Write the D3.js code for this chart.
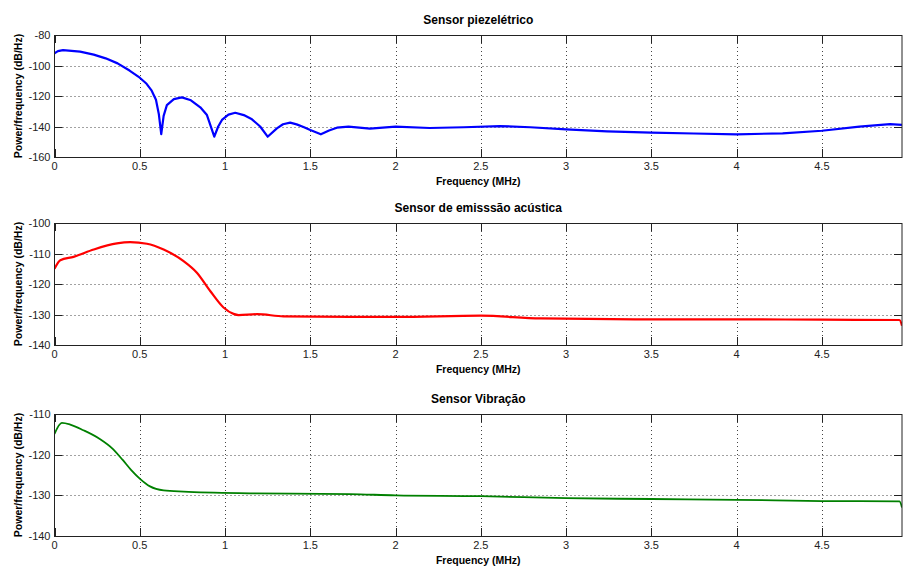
<!DOCTYPE html>
<html>
<head>
<meta charset="utf-8">
<script src="https://cdn.jsdelivr.net/npm/d3@7"></script>
<style>
  body { margin: 0; background: #fff; }
  svg { display: block; font-family: "Liberation Sans", Arial, Helvetica, sans-serif; }
</style>
</head>
<body>
<svg id="chart" width="903" height="567"></svg>
<script>
// Data (frequency in MHz, PSD in dB/Hz)
const xTicks = [0, 0.5, 1, 1.5, 2, 2.5, 3, 3.5, 4, 4.5];
const xMax = 4.97;

const titles = ["Sensor piezelétrico", "Sensor de emisssão acústica", "Sensor Vibração"];

const piezoFreq = [0, 0.02, 0.05, 0.15, 0.23, 0.3, 0.37, 0.44, 0.5, 0.54, 0.57, 0.595, 0.612, 0.626, 0.64, 0.659, 0.7, 0.747, 0.8, 0.855, 0.894, 0.937, 0.96, 0.982, 1.02, 1.06, 1.11, 1.158, 1.206, 1.25, 1.304, 1.34, 1.382, 1.42, 1.46, 1.5, 1.562, 1.61, 1.656, 1.724, 1.85, 2.0, 2.2, 2.4, 2.61, 2.79, 3.0, 3.24, 3.5, 3.75, 4.0, 4.27, 4.5, 4.72, 4.9, 4.97];
const piezoPsd = [-92, -90.6, -89.9, -90.9, -92.9, -95.3, -98.6, -103.3, -108, -112, -116.5, -122.5, -132, -145, -133, -126, -122, -120.9, -122.8, -127.4, -132.5, -146.7, -140, -135.7, -132.2, -131, -132.5, -135.3, -140, -146.7, -141.2, -138.5, -137.5, -138.6, -140.3, -142.3, -145.1, -142.6, -140.8, -140.1, -141.4, -140.1, -141, -140.5, -139.7, -140.5, -141.9, -143.2, -144, -144.6, -145.1, -144.5, -142.8, -140.1, -138.4, -139];

const aeFreq = [0, 0.034, 0.112, 0.23, 0.366, 0.444, 0.542, 0.64, 0.757, 0.835, 0.913, 0.991, 1.05, 1.08, 1.187, 1.343, 1.734, 2.0, 2.5, 2.85, 3.5, 4.0, 4.5, 4.955, 4.97];
const aePsd = [-115, -112.2, -111.1, -108.7, -106.7, -106.3, -106.8, -108.7, -112.5, -116.3, -122.3, -127.7, -129.8, -130.2, -129.9, -130.6, -130.8, -130.8, -130.4, -131.3, -131.6, -131.6, -131.7, -131.8, -133.7];

const vibFreq = [0, 0.043, 0.092, 0.17, 0.268, 0.34, 0.4, 0.45, 0.503, 0.56, 0.64, 0.757, 1.148, 1.734, 2.0, 2.5, 3.0, 3.5, 4.0, 4.5, 4.955, 4.97];
const vibPsd = [-114.9, -112.2, -112.6, -114, -116.2, -118.5, -121.3, -123.8, -126, -127.8, -128.8, -129.1, -129.5, -129.7, -130, -130.2, -130.7, -130.9, -131.1, -131.4, -131.5, -133];

const yTicks1 = [-160, -140, -120, -100, -80];
const yTicks2 = [-140, -130, -120, -110, -100];
const yTicks3 = [-140, -130, -120, -110];

const panels = [
  { title: titles[0], freq: piezoFreq, psd: piezoPsd, yTicks: yTicks1, color: "#0000ff", top: 35, width: 2.2, curve: d3.curveLinear },
  { title: titles[1], freq: aeFreq, psd: aePsd, yTicks: yTicks2, color: "#ff0000", top: 223, width: 2.2, curve: d3.curveMonotoneX },
  { title: titles[2], freq: vibFreq, psd: vibPsd, yTicks: yTicks3, color: "#008000", top: 414, width: 1.8, curve: d3.curveMonotoneX }
];

const svg = d3.select("#chart");
const left = 54.5, right = 902;
const h = 122;
const tickLen = 8;

const x = d3.scaleLinear().domain([0, xMax]).range([left, right]);

panels.forEach((p, i) => {
  const top = p.top, bottom = top + h;
  const y = d3.scaleLinear().domain(d3.extent(p.yTicks)).range([bottom, top]);
  const g = svg.append("g");

  // grid
  g.selectAll(".vgrid").data(xTicks.slice(1)).enter().append("line")
    .attr("x1", d => Math.round(x(d)) + 0.5).attr("x2", d => Math.round(x(d)) + 0.5)
    .attr("y1", top).attr("y2", bottom)
    .attr("stroke", "#444").attr("stroke-width", 1).attr("stroke-dasharray", "1,3");
  g.selectAll(".hgrid").data(p.yTicks.slice(1, -1)).enter().append("line")
    .attr("x1", left).attr("x2", right)
    .attr("y1", d => Math.round(y(d)) + 0.5).attr("y2", d => Math.round(y(d)) + 0.5)
    .attr("stroke", "#444").attr("stroke-width", 1).attr("stroke-dasharray", "1,3");

  // curve
  const clipId = "clip" + i;
  svg.append("clipPath").attr("id", clipId).append("rect")
    .attr("x", left).attr("y", top).attr("width", right - left).attr("height", h);
  const pts = p.freq.map((f, k) => [f, p.psd[k]]);
  g.append("path").datum(pts)
    .attr("clip-path", `url(#${clipId})`)
    .attr("fill", "none").attr("stroke", p.color).attr("stroke-width", p.width)
    .attr("stroke-linejoin", "round")
    .attr("d", d3.line().x(d => x(d[0])).y(d => y(d[1])).curve(p.curve));

  // box
  g.append("rect").attr("x", left).attr("y", top + 0.5).attr("width", right - left).attr("height", h)
    .attr("fill", "none").attr("stroke", "#222").attr("stroke-width", 1);

  // inward ticks on all four sides
  xTicks.forEach(t => {
    const px = Math.round(x(t)) + 0.5;
    g.append("line").attr("x1", px).attr("x2", px).attr("y1", bottom).attr("y2", bottom - tickLen).attr("stroke", "#222");
    g.append("line").attr("x1", px).attr("x2", px).attr("y1", top).attr("y2", top + tickLen).attr("stroke", "#222");
  });
  p.yTicks.forEach(t => {
    const py = Math.round(y(t)) + 0.5;
    g.append("line").attr("x1", left).attr("x2", left + tickLen).attr("y1", py).attr("y2", py).attr("stroke", "#222");
    g.append("line").attr("x1", right).attr("x2", right - tickLen).attr("y1", py).attr("y2", py).attr("stroke", "#222");
  });

  // tick labels
  g.selectAll(".xl").data(xTicks).enter().append("text")
    .attr("x", d => x(d)).attr("y", bottom + 13)
    .attr("text-anchor", "middle").attr("font-size", 11).attr("fill", "#222")
    .text(d => d);
  g.selectAll(".yl").data(p.yTicks).enter().append("text")
    .attr("x", left - 4).attr("y", d => y(d) + 4)
    .attr("text-anchor", "end").attr("font-size", 11).attr("fill", "#222")
    .text(d => d);

  // labels
  g.append("text").attr("x", (left + right) / 2).attr("y", top - 11)
    .attr("text-anchor", "middle").attr("font-size", 12).attr("font-weight", "bold")
    .text(p.title);
  g.append("text").attr("x", (left + right) / 2).attr("y", bottom + 28)
    .attr("text-anchor", "middle").attr("font-size", 10.5).attr("font-weight", "bold")
    .text("Frequency (MHz)");
  g.append("text")
    .attr("transform", `translate(22,${(top + bottom) / 2}) rotate(-90)`)
    .attr("text-anchor", "middle").attr("font-size", 10.5).attr("font-weight", "bold")
    .text("Power/frequency (dB/Hz)");
});
</script>
</body>
</html>
